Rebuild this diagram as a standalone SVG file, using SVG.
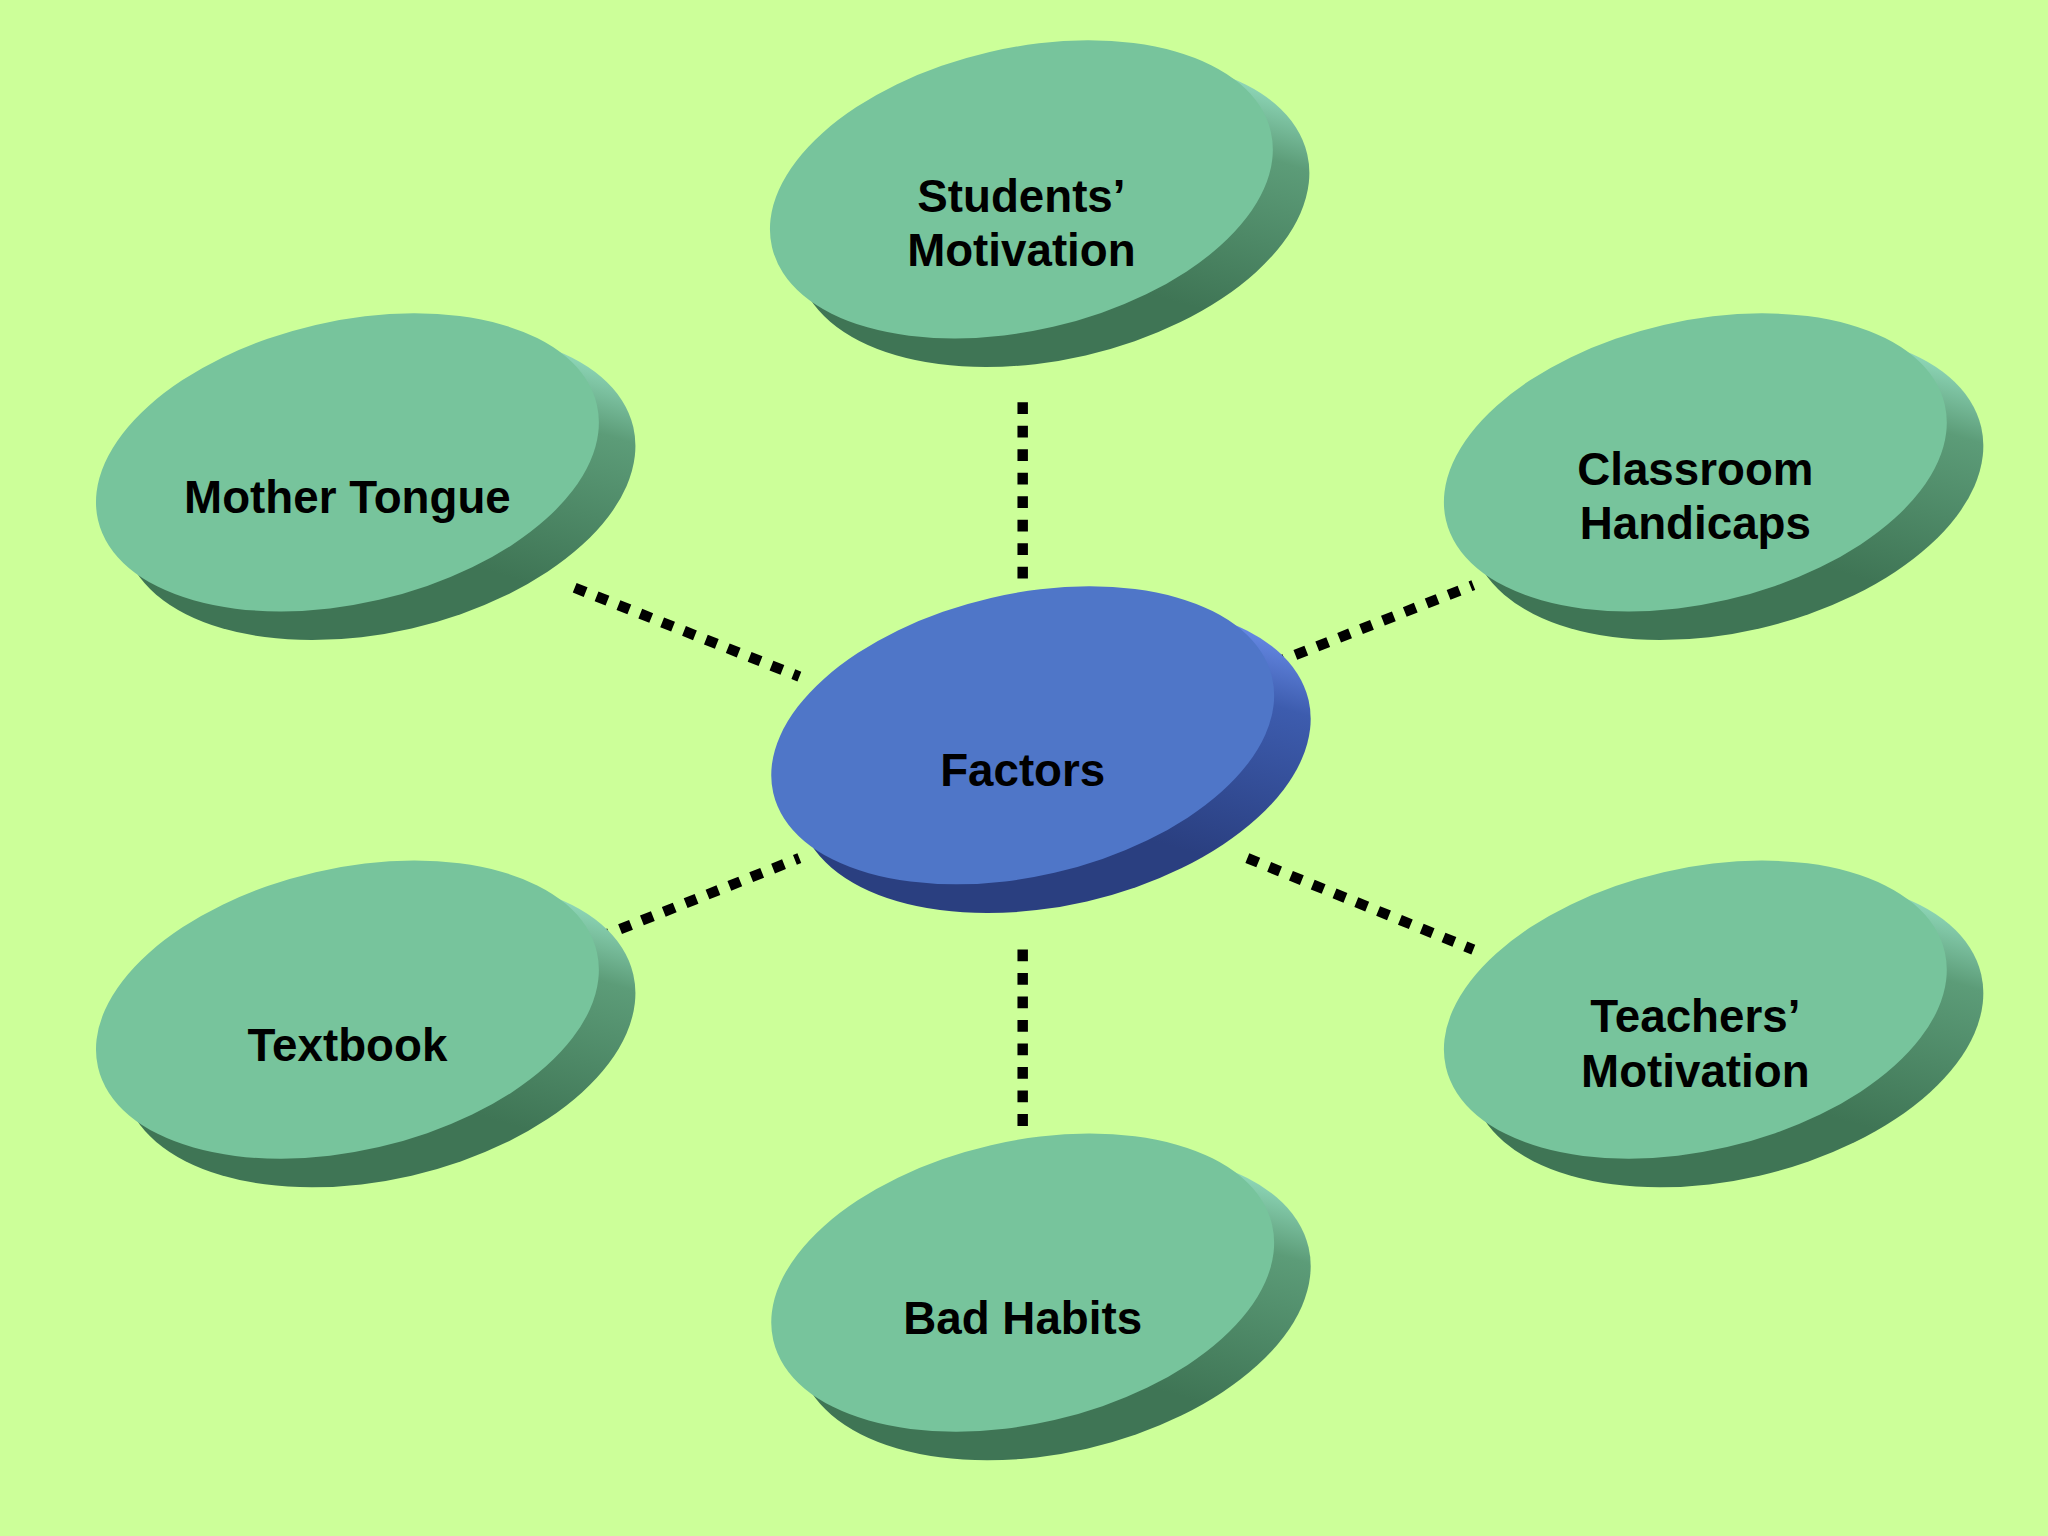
<svg xmlns="http://www.w3.org/2000/svg" width="2048" height="1536" viewBox="0 0 2048 1536">
<defs>
<linearGradient id="gs" x1="0" y1="1" x2="1" y2="0"><stop offset="0.4" stop-color="#3f7555"/><stop offset="0.72" stop-color="#5c9c78"/><stop offset="0.92" stop-color="#a8f5d8"/></linearGradient>
<linearGradient id="bs" x1="0" y1="1" x2="1" y2="0"><stop offset="0.4" stop-color="#2a3f80"/><stop offset="0.72" stop-color="#3d5cae"/><stop offset="0.92" stop-color="#7aa0ff"/></linearGradient>
<g id="g"><ellipse cx="24" cy="18" rx="200" ry="112" transform="rotate(-13 24 18)" fill="url(#gs)"/><ellipse cx="0" cy="0" rx="196" ry="108" transform="rotate(-13)" fill="#77c49c"/></g>
</defs>
<style>text{font-family:"Liberation Sans",Arial,sans-serif;font-weight:bold;font-size:35px;fill:#000;text-anchor:middle}.c{stroke:#000;stroke-width:8;stroke-dasharray:9 9;fill:none}</style>
<rect width="2048" height="1536" fill="#ccff99"/>
<g transform="scale(1.30612)">
<g id="connectors">
<path class="c" d="M783 308V450M783 727V866M440 450L612 518M975 508L1128 448M458 718L612 657M955 657L1128 727"/>
</g>
<g id="n1" transform="translate(782,145)"><use href="#g"/><text y="17">Students’</text><text y="59">Motivation</text></g>
<g id="n2" transform="translate(266,354)"><use href="#g"/><text y="39">Mother Tongue</text></g>
<g id="n3" transform="translate(1298,354)"><use href="#g"/><text y="17">Classroom</text><text y="59">Handicaps</text></g>
<g id="n4" transform="translate(783,563)"><ellipse cx="24" cy="18" rx="200" ry="112" transform="rotate(-13 24 18)" fill="url(#bs)"/><ellipse rx="196" ry="108" transform="rotate(-13)" fill="#4f76c8"/><text y="39">Factors</text></g>
<g id="n5" transform="translate(266,773)"><use href="#g"/><text y="39">Textbook</text></g>
<g id="n6" transform="translate(1298,773)"><use href="#g"/><text y="17">Teachers’</text><text y="59">Motivation</text></g>
<g id="n7" transform="translate(783,982)"><use href="#g"/><text y="39">Bad Habits</text></g>
</g>
</svg>
